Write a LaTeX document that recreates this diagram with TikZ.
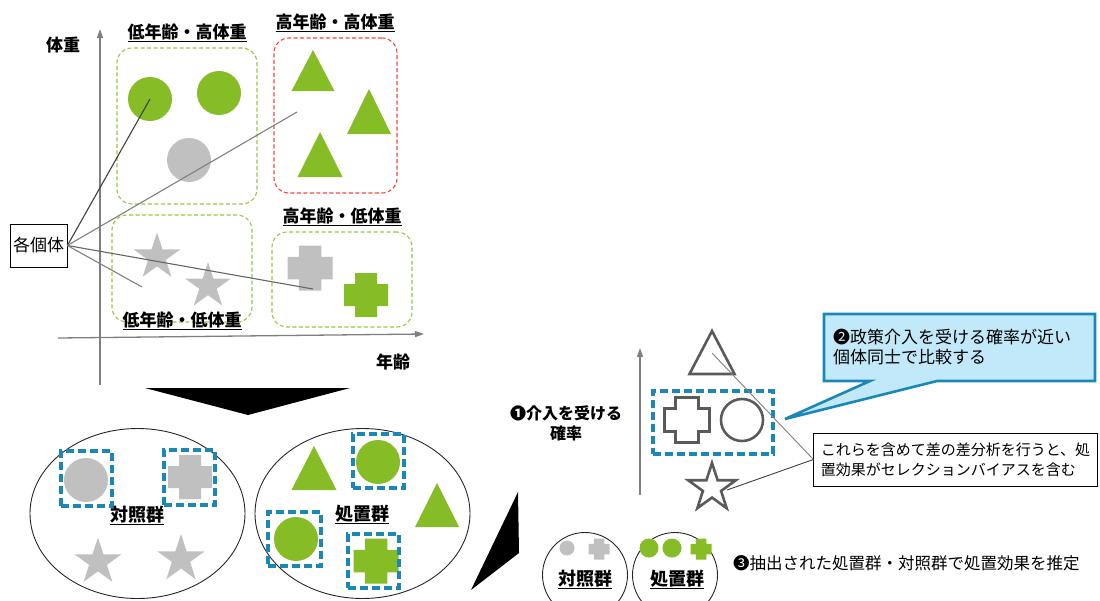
\documentclass[tikz,border=0pt]{standalone}
\usepackage{fontspec}
\setmainfont{Noto Sans CJK JP}
\usetikzlibrary{arrows.meta,shapes.geometric}
\definecolor{grn}{HTML}{86BC25}
\definecolor{shgray}{HTML}{BFC0BF}
\definecolor{boxgrn}{HTML}{96C840}
\definecolor{boxred}{HTML}{FF4040}
\definecolor{blu}{HTML}{1B87B7}
\definecolor{callfill}{HTML}{C2E9FA}
\definecolor{outg}{HTML}{595A5C}
\definecolor{axg}{HTML}{7F7F7F}
\newcommand\fs[2]{\fontsize{#1pt}{#2pt}\selectfont}
\newsavebox\myulbox
\newcommand\myul[1]{\sbox\myulbox{#1}\rlap{\rule[-3.5pt]{\wd\myulbox}{1.1pt}}\usebox\myulbox}
\newcommand\crossshape[4]{\path[#4,shift={(#1,#2)},scale=#3] (-0.5,-1) -- (0.5,-1) -- (0.5,-0.5) -- (1,-0.5) -- (1,0.5) -- (0.5,0.5) -- (0.5,1) -- (-0.5,1) -- (-0.5,0.5) -- (-1,0.5) -- (-1,-0.5) -- (-0.5,-0.5) -- cycle;}
\newcommand\starshape[4]{\pgfmathsetmacro\rin{0.382*#3}\path[#4,shift={(#1,#2)}] (270:#3) -- (306:\rin) -- (342:#3) -- (18:\rin) -- (54:#3) -- (90:\rin) -- (126:#3) -- (162:\rin) -- (198:#3) -- (234:\rin) -- cycle;}
\newcommand\tri[5]{\path[#5] (#1,#2) -- (#1-#3,#2+#4) -- (#1+#3,#2+#4) -- cycle;}
\tikzset{
  grnbox/.style={draw=boxgrn, line width=1.1pt, dash pattern=on 4pt off 2.5pt, rounded corners=15pt, inner sep=0},
  redbox/.style={draw=boxred, line width=1.1pt, dash pattern=on 4pt off 2.5pt, rounded corners=15pt, inner sep=0},
  bluebox/.style={draw=blu, line width=3.3pt, dash pattern=on 8pt off 4pt, inner sep=0},
  gdot/.style={circle, fill=grn, inner sep=0},
  ydot/.style={circle, fill=shgray, inner sep=0},
  gshape/.style={fill=grn},
  yshape/.style={fill=shgray},
  oshape/.style={draw=outg, line width=2.6pt, line join=miter},
  axisline/.style={draw=axg, line width=1.3pt, -{Triangle[length=9pt,width=6pt]}},
  linkdark/.style={draw=black!75, line width=1.1pt},
  linkgray/.style={draw=black!50, line width=1.1pt},
  lbl/.style={font=\bfseries\fs{17}{20}, inner sep=0},
  biglbl/.style={font=\bfseries\fs{18}{20}, inner sep=0},
  group/.style={draw=black!85, line width=0.9pt, ellipse, inner sep=0},
}
\begin{document}
\begin{tikzpicture}[x=1pt,y=-1pt]
\useasboundingbox (0,0) rectangle (1100,600);
% ---------- top-left scatter ----------
\coordinate (yb) at (100,385); \coordinate (yt) at (100,29);
\coordinate (xl) at (58,338); \coordinate (xr) at (424,334);
\draw[axisline] (yb) -- (yt);
\draw[axisline] (xl) -- (xr);
\node[lbl] (ylab) at (63,45) {体重};
\node[lbl] (xlab) at (393,362) {年齢};

\node[grnbox, minimum width=140pt, minimum height=156pt] (b1) at (187,126) {};
\node[redbox, minimum width=123pt, minimum height=155pt] (b2) at (335.5,115.5) {};
\node[grnbox, minimum width=140pt, minimum height=107pt] (b3) at (182,268.5) {};
\node[grnbox, minimum width=140pt, minimum height=95pt] (b4) at (342,279.5) {};
\node[lbl] (q1) at (187,33) {\myul{低年齢・高体重}};
\node[lbl] (q2) at (335,23) {\myul{高年齢・高体重}};
\node[lbl] (q3) at (342,217) {\myul{高年齢・低体重}};

\node[gdot, minimum size=44pt] (c1) at (150,99) {};
\node[gdot, minimum size=44pt] (c2) at (219,93) {};
\node[ydot, minimum size=44pt] (c3) at (189,160) {};
\tri{313}{50}{21.5}{41}{gshape}
\tri{369}{89}{22}{45}{gshape}
\tri{320}{132}{22.5}{45}{gshape}
\starshape{157}{257}{24.5}{yshape}
\starshape{208}{286}{24}{yshape}
\crossshape{310}{268}{22.5}{yshape}
\crossshape{366}{295}{22}{gshape}
\node[lbl] (q4) at (182,321) {\myul{低年齢・低体重}};

\node[draw, line width=0.8pt, minimum width=57pt, minimum height=43pt, inner sep=0, font=\fs{17}{20}] (each) at (38.5,245.5) {各個体};
\coordinate (e2) at (297,112);
\coordinate (e3) at (313,289);
\coordinate (e4) at (142,287);
\draw[linkdark] (each.east) -- (c1.center);
\draw[linkgray] (each.east) -- (e2);
\draw[linkgray, draw=black!60] (each.east) -- (e3);
\draw[linkgray] (each.east) -- (e4);

% ---------- big arrows ----------
\fill (145,388) -- (350,388) -- (248,415) -- cycle;
\fill (518,492) -- (519,553) -- (471,590) -- cycle;

% ---------- groups ----------
\node[group, minimum width=215pt, minimum height=170pt] (ctrl) at (137.5,513.5) {};
\node[group, minimum width=215pt, minimum height=170pt] (treat) at (362.5,513.5) {};
\node[ydot, minimum size=44pt] (gc1) at (86,480) {};
\crossshape{190}{477}{22}{yshape}
\node[bluebox, minimum width=51pt, minimum height=55pt] (l1) at (86.5,478.5) {};
\node[bluebox, minimum width=51pt, minimum height=55pt] (l2) at (189.5,477.5) {};
\node[biglbl] (ctrllab) at (137,516) {\myul{対照群}};
\starshape{98}{562}{24.5}{yshape}
\starshape{181}{559}{25}{yshape}

\tri{314}{446}{22.5}{44}{gshape}
\tri{437}{483}{22}{44}{gshape}
\node[gdot, minimum size=44pt] (gc2) at (378,462) {};
\node[gdot, minimum size=44pt] (gc3) at (296,539) {};
\crossshape{376}{561}{22.5}{gshape}
\node[bluebox, minimum width=51pt, minimum height=54pt] (r1) at (378.5,461) {};
\node[bluebox, minimum width=53pt, minimum height=54pt] (r2) at (294.5,539) {};
\node[bluebox, minimum width=51pt, minimum height=54pt] (r3) at (373.5,561) {};
\node[biglbl] (treatlab) at (362,515) {\myul{処置群}};

% ---------- right part ----------
\coordinate (pb) at (640,495); \coordinate (pt) at (640,348);
\draw[axisline] (pb) -- (pt);
\node[font=\bfseries\fs{16}{20}, align=center, inner sep=0] (p1) at (566,423) {❶介入を受ける\\確率};

\tri{712}{331}{22.5}{43}{oshape}
\crossshape{687}{420}{22.5}{oshape}
\node[circle, draw=outg, line width=2.6pt, minimum size=42pt, inner sep=0] (oc) at (742,420) {};
\node[bluebox, minimum width=120pt, minimum height=63pt] (rb) at (713,422.5) {};
\starshape{712}{488}{25}{oshape}

\path[fill=callfill, draw=blu, line width=2.6pt, line join=miter] (824,314) -- (1095,314) -- (1095,381) -- (937,381) -- (785,419) -- (870,381) -- (824,381) -- cycle;
\node[anchor=west, align=left, font=\fs{17}{20}, inner sep=0] (callout) at (833,347) {❷政策介入を受ける確率が近い\\個体同士で比較する};

\node[draw, fill=white, line width=0.8pt, inner xsep=7pt, inner ysep=5pt, minimum height=53pt, align=left, font=\fs{15}{20}] (tb) at (955.5,459.5) {これらを含めて差の差分析を行うと、処\\置効果がセレクションバイアスを含む};
\coordinate (tt) at (712,353);
\coordinate (ts) at (727,490);
\draw[linkgray, line width=0.9pt] (tb.west) -- (tt);
\draw[linkdark, line width=0.9pt] (tb.west) -- (ts);

\node[circle, draw=black!85, line width=0.9pt, minimum size=85pt, inner sep=0] (sc1) at (585,575) {};
\node[circle, draw=black!85, line width=0.9pt, minimum size=85pt, inner sep=0] (sc2) at (675,575) {};
\node[ydot, minimum size=15pt] (s1) at (567,548) {};
\crossshape{599}{549}{10.5}{yshape}
\node[gdot, minimum size=19pt] (s2) at (649,548) {};
\node[gdot, minimum size=19pt] (s3) at (672,548) {};
\crossshape{701}{549}{10.5}{gshape}
\node[biglbl] (sl1) at (585,580) {\myul{対照群}};
\node[biglbl] (sl2) at (677,580) {\myul{処置群}};
\node[anchor=west, font=\fs{16.5}{20}, inner sep=0] (p3) at (733,563) {❸抽出された処置群・対照群で処置効果を推定};
\end{tikzpicture}
\end{document}
